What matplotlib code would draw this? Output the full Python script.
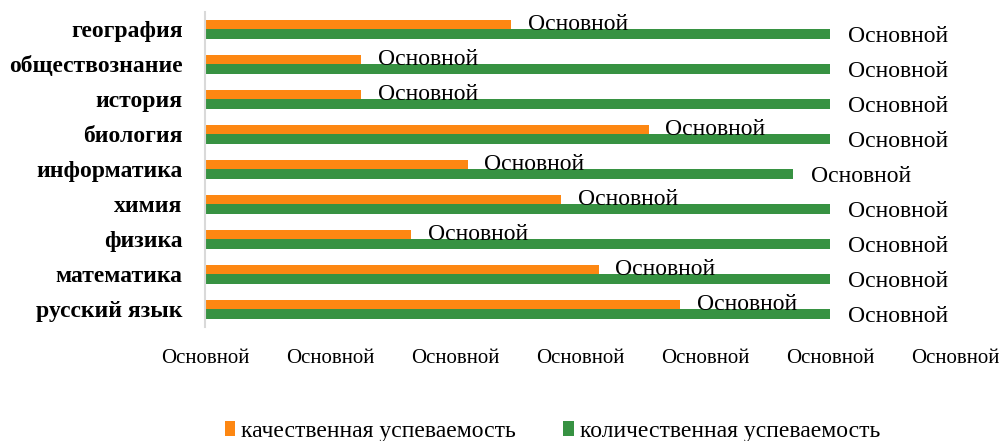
import matplotlib.pyplot as plt
import numpy as np

plt.rcParams['font.family'] = ['Liberation Serif', 'DejaVu Serif']

subjects = ['русский язык', 'математика', 'физика', 'химия', 'информатика',
            'биология', 'история', 'обществознание', 'география']
quality = [76, 63, 33, 57, 42, 71, 25, 25, 49]
quantity = [100, 100, 100, 100, 94, 100, 100, 100, 100]
series_names = ['качественная успеваемость', 'количественная успеваемость']
x_ticks = [0, 20, 40, 60, 80, 100, 120]
label_text = 'Основной'

orange = '#fd8712'
green = '#379242'

fig = plt.figure(figsize=(10.08, 4.41), dpi=100)
ax = fig.add_axes([205 / 1008, 1 - 327 / 441, 750 / 1008, 315 / 441])

y = np.arange(len(subjects))
h = 0.27
ax.barh(y + h / 2, quality, height=h, color=orange, label=series_names[0])
ax.barh(y - h / 2, quantity, height=h, color=green, label=series_names[1])

for yi, q, n in zip(y, quality, quantity):
    ax.annotate(label_text, (q, yi + h / 2), xytext=(12, 0), textcoords='offset points',
                ha='left', va='center', fontsize=17)
    ax.annotate(label_text, (n, yi - h / 2), xytext=(13, -2), textcoords='offset points',
                ha='left', va='center', fontsize=17)

ax.set_xlim(0, 120)
ax.set_ylim(-0.51, len(subjects) - 0.51)
ax.set_xticks(x_ticks)
ax.set_xticklabels([label_text] * len(x_ticks), fontsize=15)
ax.set_yticks(y)
ax.set_yticklabels(subjects, fontsize=17, fontweight='bold')
ax.tick_params(length=0)
ax.tick_params(axis='x', pad=16)
ax.tick_params(axis='y', pad=16)
for s in ['top', 'right', 'bottom']:
    ax.spines[s].set_visible(False)
ax.spines['left'].set_color('#d9d9d9')
ax.spines['left'].set_linewidth(1.5)

fig.legend(loc='lower center', bbox_to_anchor=(0.548, -0.05), ncol=2, frameon=False,
           fontsize=17, handlelength=0.45, handleheight=0.65, handletextpad=0.25,
           columnspacing=2.0)

fig.savefig('out.png', dpi=100)
